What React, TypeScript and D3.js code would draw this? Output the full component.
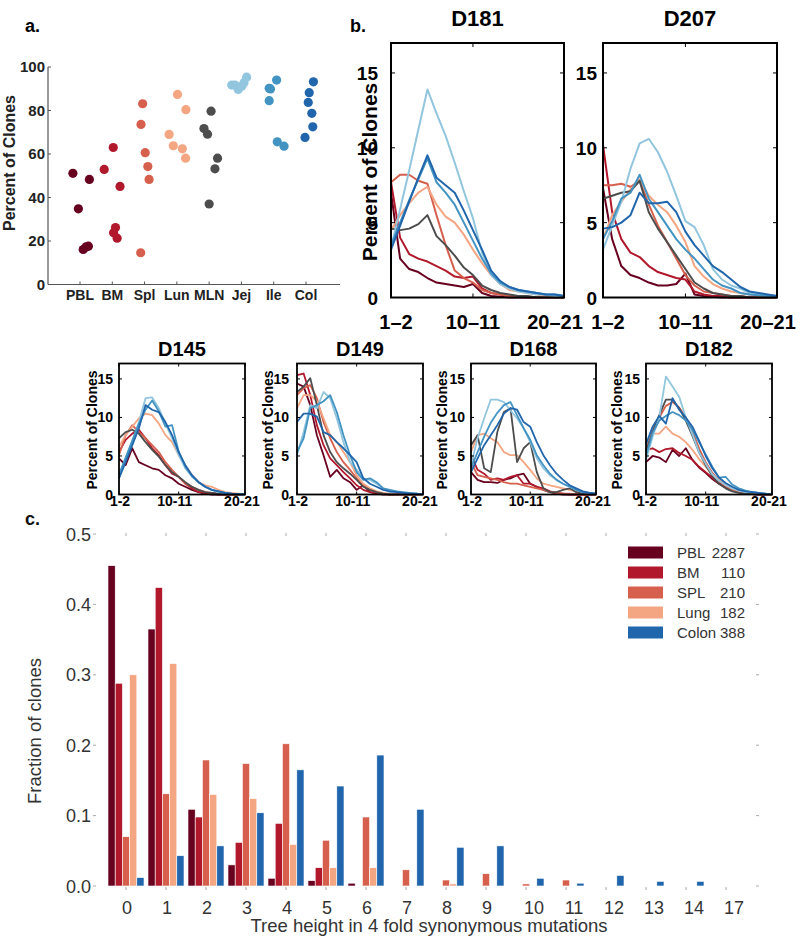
import * as d3 from "d3";

const NARROW = "'Liberation Sans Narrow', 'Arial Narrow', 'Liberation Sans', Arial, sans-serif";
const SANS = "'Liberation Sans', Arial, Helvetica, sans-serif";

// ---------- panel a: percent of clones per tissue ----------
const tissues = ["PBL", "BM", "Spl", "Lun", "MLN", "Jej", "Ile", "Col"];
const tissueColors = ["#67001f", "#b2182b", "#d6604d", "#f4a582", "#4d4d4d", "#92c5de", "#4393c3", "#2166ac"];

const pctPBL = [51.1, 34.8, 48.3, 16.1, 17.3, 17.6];
const pctBM = [52.9, 63.0, 45.1, 26.2, 23.8, 21.3];
const pctSpl = [83.1, 73.6, 60.6, 54.2, 48.3, 14.6];
const pctLun = [87.4, 80.4, 69.0, 63.8, 62.4, 58.1];
const pctMLN = [79.7, 71.7, 69.1, 58.1, 53.2, 37.0];
const pctJej = [91.7, 91.7, 89.7, 91.2, 92.8, 95.3];
const pctIle = [90.2, 89.9, 94.0, 84.5, 65.6, 63.6];
const pctCol = [93.2, 88.2, 83.7, 78.7, 72.5, 67.6];
// horizontal jitter, in units of the category spacing
const jitPBL = [-0.22, -0.05, 0.29, 0.1, 0.19, 0.26];
const jitBM = [-0.25, 0.03, 0.24, 0.1, 0.04, 0.15];
const jitSpl = [-0.06, -0.11, 0.02, 0.1, 0.14, -0.12];
const jitLun = [0.02, 0.28, -0.24, -0.11, 0.17, 0.27];
const jitMLN = [0.06, -0.16, -0.05, 0.26, 0.18, 0.0];
const jitJej = [-0.3, -0.2, -0.1, 0.01, 0.08, 0.16];
const jitIle = [-0.14, -0.1, 0.09, -0.14, 0.11, 0.32];
const jitCol = [0.23, 0.1, 0.07, 0.18, 0.21, -0.03];

const pctByTissue = [pctPBL, pctBM, pctSpl, pctLun, pctMLN, pctJej, pctIle, pctCol];
const jitByTissue = [jitPBL, jitBM, jitSpl, jitLun, jitMLN, jitJej, jitIle, jitCol];
const pctTicks = [0, 20, 40, 60, 80, 100];

// ---------- panel b: clone size profiles (20 bins, order = tissues) ----------
const profileTicks = [0, 9, 19];
const bigTickLabels = ["1\u20132", "10\u201311", "20\u201321"];
const smallTickLabels = ["1-2", "10-11", "20-21"];
const profileYTicks = [0, 5, 10, 15];

const d181 = [
  [7.0, 2.6, 1.9, 1.7, 1.3, 1.0, 0.9, 0.8, 0.7, 0.9, 0.3, 0.1, 0.05, 0, 0, 0, 0, 0, 0, 0],
  [7.7, 4.0, 2.9, 2.6, 2.4, 2.1, 1.8, 1.4, 1.3, 1.4, 0.6, 0.3, 0.2, 0.1, 0.05, 0, 0, 0, 0, 0],
  [7.7, 8.2, 8.2, 7.8, 7.6, 5.5, 3.5, 1.8, 1.3, 1.0, 0.5, 0.3, 0.2, 0.1, 0.1, 0.05, 0, 0, 0, 0],
  [4.5, 5.5, 6.3, 7.0, 7.4, 6.2, 5.4, 5.0, 4.2, 3.2, 2.3, 1.5, 0.9, 0.5, 0.4, 0.3, 0.2, 0.1, 0.1, 0.1],
  [4.6, 4.5, 4.6, 4.9, 5.5, 4.1, 3.5, 2.8, 2.0, 1.5, 0.8, 0.5, 0.3, 0.2, 0.1, 0.1, 0, 0, 0, 0],
  [3.3, 5.9, 8.5, 11.2, 13.9, 12.3, 10.8, 9.0, 7.1, 5.3, 3.0, 1.5, 0.9, 0.6, 0.4, 0.3, 0.2, 0.2, 0.1, 0.1],
  [3.5, 5.0, 6.5, 7.9, 9.3, 7.7, 7.0, 6.2, 5.0, 3.8, 2.6, 1.6, 1.0, 0.7, 0.5, 0.4, 0.3, 0.2, 0.2, 0.1],
  [3.2, 4.8, 6.4, 8.0, 9.5, 8.0, 7.5, 7.0, 5.8, 4.5, 3.2, 1.8, 1.1, 0.7, 0.5, 0.4, 0.3, 0.2, 0.2, 0.1],
];
const d207 = [
  [7.3, 3.9, 2.1, 1.5, 1.3, 1.0, 0.8, 0.8, 0.9, 1.6, 0.2, 0.1, 0.05, 0, 0, 0, 0, 0, 0, 0],
  [10.2, 5.7, 3.9, 3.0, 2.7, 2.1, 1.7, 1.5, 1.3, 1.2, 0.4, 0.2, 0.1, 0.1, 0, 0, 0, 0, 0, 0],
  [7.5, 7.5, 7.6, 7.4, 7.8, 6.2, 4.8, 3.7, 2.6, 1.5, 0.8, 0.4, 0.3, 0.2, 0.1, 0.1, 0, 0, 0, 0],
  [3.9, 5.5, 6.4, 7.2, 7.9, 6.8, 6.2, 5.7, 4.8, 3.7, 2.1, 1.4, 0.9, 0.6, 0.4, 0.3, 0.2, 0.1, 0.1, 0.05],
  [6.6, 6.8, 7.0, 7.1, 7.8, 5.7, 4.6, 3.7, 2.8, 1.9, 1.0, 0.6, 0.3, 0.2, 0.1, 0.1, 0, 0, 0, 0],
  [3.2, 4.8, 6.4, 8.6, 10.3, 10.6, 9.7, 8.4, 6.8, 5.1, 4.7, 3.5, 1.9, 1.2, 0.8, 0.6, 0.3, 0.2, 0.15, 0.1],
  [3.9, 5.1, 6.6, 7.0, 8.2, 6.6, 5.7, 4.8, 3.9, 3.2, 2.6, 1.9, 1.2, 0.8, 0.6, 0.3, 0.2, 0.15, 0.1, 0.1],
  [4.6, 4.7, 5.0, 5.5, 7.0, 6.3, 6.3, 6.4, 5.7, 4.4, 3.5, 2.8, 2.1, 1.7, 1.2, 0.7, 0.4, 0.3, 0.2, 0.1],
];
const d145 = [
  [4.7, 3.8, 6.0, 4.2, 3.8, 3.4, 3.2, 2.5, 2.1, 1.4, 1.0, 0.6, 0.3, 0.1, 0, 0, 0, 0, 0, 0],
  [5.5, 7.1, 7.9, 8.4, 7.3, 6.0, 5.1, 3.8, 2.7, 2.3, 1.4, 0.8, 0.3, 0.2, 0.1, 0, 0, 0, 0, 0],
  [5.1, 7.7, 9.0, 8.1, 7.3, 6.4, 5.5, 4.2, 3.2, 2.3, 1.4, 1.0, 0.6, 0.3, 0.2, 0.1, 0, 0, 0, 0],
  [6.2, 7.7, 8.8, 9.9, 10.5, 10.3, 9.2, 7.7, 6.8, 5.1, 3.8, 2.5, 1.6, 1.2, 1.0, 0.6, 0.3, 0.2, 0.1, 0],
  [7.3, 8.1, 8.4, 7.9, 6.8, 5.8, 4.9, 3.8, 2.9, 2.3, 1.6, 1.0, 0.6, 0.3, 0.2, 0.1, 0, 0, 0, 0],
  [2.5, 4.7, 6.8, 9.4, 12.5, 12.6, 11.2, 9.2, 7.3, 5.1, 3.4, 2.3, 1.6, 1.0, 0.6, 0.3, 0.2, 0.1, 0.05, 0],
  [2.6, 4.8, 7.0, 9.2, 11.0, 12.2, 10.8, 8.8, 9.0, 5.6, 3.6, 2.4, 1.6, 1.0, 0.6, 0.4, 0.2, 0.1, 0.05, 0],
  [2.1, 4.2, 6.4, 8.6, 11.6, 11.0, 10.7, 9.4, 7.7, 5.5, 3.8, 2.5, 1.6, 1.0, 0.6, 0.4, 0.2, 0.1, 0.05, 0],
];
const d149 = [
  [14.4, 14.0, 11.6, 7.7, 5.1, 2.3, 3.2, 2.1, 1.6, 0.6, 1.2, 0.3, 0.1, 0, 0, 0, 0, 0, 0, 0],
  [15.5, 15.7, 12.9, 9.0, 6.4, 4.7, 3.8, 2.9, 2.1, 1.2, 0.6, 0.3, 0.2, 0.1, 0, 0, 0, 0, 0, 0],
  [12.9, 13.8, 14.2, 12.5, 9.4, 7.3, 5.5, 4.2, 3.2, 2.1, 1.2, 0.6, 0.3, 0.1, 0, 0, 0, 0, 0, 0],
  [11.2, 12.9, 12.9, 12.1, 9.9, 7.7, 6.8, 5.5, 4.2, 2.5, 1.4, 0.8, 0.4, 0.2, 0.1, 0, 0, 0, 0, 0],
  [13.3, 14.0, 15.1, 11.6, 7.7, 5.5, 4.2, 3.4, 2.7, 1.9, 1.0, 0.6, 0.3, 0.1, 0, 0, 0, 0, 0, 0],
  [5.1, 8.1, 11.6, 11.2, 13.3, 12.5, 9.9, 6.8, 4.2, 3.2, 2.1, 1.9, 1.4, 0.8, 0.3, 0.4, 0.2, 0.1, 0.1, 0],
  [5.5, 7.3, 11.2, 11.6, 12.1, 12.9, 10.7, 7.7, 5.1, 2.9, 1.9, 2.1, 1.6, 0.8, 0.6, 0.4, 0.3, 0.2, 0.1, 0],
  [9.4, 10.5, 10.5, 10.1, 8.1, 7.7, 6.8, 6.0, 5.1, 4.2, 2.1, 1.4, 1.0, 0.6, 0.4, 0.3, 0.2, 0.1, 0.1, 0],
];
const d168 = [
  [2.9, 1.9, 1.6, 1.6, 1.5, 1.9, 2.1, 2.5, 2.7, 1.4, 1.0, 0.6, 0.3, 0.1, 0, 0, 0, 0, 0, 0],
  [5.1, 3.2, 2.7, 1.9, 2.1, 1.9, 2.3, 2.5, 1.4, 1.4, 1.0, 0.8, 0.4, 0.2, 0.1, 0, 0, 0, 0, 0],
  [4.2, 2.5, 2.3, 2.1, 1.9, 1.6, 1.4, 1.4, 1.2, 1.0, 0.8, 0.6, 0.3, 0.2, 0.1, 0.1, 0, 0, 0, 0],
  [5.5, 7.7, 7.9, 7.3, 6.8, 5.5, 5.1, 5.1, 4.2, 3.2, 2.1, 1.4, 1.2, 1.0, 0.8, 0.6, 0.4, 0.3, 0.2, 0.1],
  [6.4, 7.7, 3.4, 2.9, 8.1, 10.7, 11.2, 4.2, 6.0, 6.8, 2.9, 0.8, 0.3, 0.3, 0.6, 0.8, 0.3, 0.1, 0, 0],
  [3.8, 7.3, 9.9, 12.3, 12.3, 12.0, 10.9, 9.9, 8.6, 6.8, 4.7, 3.4, 2.5, 1.9, 1.4, 1.0, 0.6, 0.3, 0.2, 0.1],
  [3.5, 5.5, 7.5, 9.3, 10.6, 11.6, 12.0, 10.3, 8.6, 7.1, 5.1, 3.8, 2.7, 1.9, 1.4, 1.0, 0.6, 0.3, 0.2, 0.1],
  [2.9, 4.7, 6.4, 7.7, 9.0, 10.5, 11.2, 11.0, 9.4, 8.8, 6.8, 5.1, 3.8, 2.7, 1.9, 1.2, 0.8, 0.4, 0.2, 0.1],
];
const d182 = [
  [4.2, 5.0, 4.8, 4.2, 5.8, 5.0, 6.0, 4.5, 3.5, 2.8, 2.0, 1.4, 0.9, 0.5, 0.3, 0.1, 0.05, 0, 0, 0],
  [5.8, 6.0, 5.5, 5.9, 6.0, 5.4, 5.0, 4.5, 3.6, 2.9, 2.2, 1.5, 1.0, 0.6, 0.3, 0.1, 0.05, 0, 0, 0],
  [5.8, 8.3, 10.0, 11.5, 12.0, 11.3, 10.0, 8.2, 6.0, 4.2, 2.8, 1.8, 1.1, 0.6, 0.3, 0.2, 0.1, 0, 0, 0],
  [6.8, 7.9, 7.9, 8.8, 7.9, 7.5, 6.8, 5.8, 4.6, 3.6, 2.6, 2.0, 1.3, 0.8, 0.5, 0.3, 0.2, 0.1, 0.05, 0],
  [5.5, 8.1, 10.3, 12.3, 12.3, 11.2, 9.6, 7.6, 5.5, 3.8, 2.4, 1.4, 0.8, 0.4, 0.2, 0.1, 0.05, 0, 0, 0],
  [4.5, 7.5, 10.0, 15.3, 14.0, 12.7, 10.0, 7.8, 5.5, 4.0, 2.6, 1.8, 1.2, 0.8, 0.5, 0.3, 0.3, 0.2, 0.1, 0.05],
  [5.0, 8.0, 9.6, 10.2, 10.7, 10.3, 9.6, 8.4, 6.8, 5.2, 3.6, 2.2, 2.3, 1.3, 0.8, 0.5, 0.3, 0.2, 0.1, 0.05],
  [6.5, 8.8, 10.2, 9.2, 12.5, 11.0, 10.0, 8.8, 7.0, 5.0, 3.4, 2.2, 1.5, 1.0, 0.6, 0.4, 0.3, 0.2, 0.1, 0],
];

// ---------- panel c: tree height distribution ----------
const heightCats = ["0", "1", "2", "3", "4", "5", "6", "7", "8", "9", "10", "11", "12", "13", "14", "17"];
const fracPBL = [0.455, 0.365, 0.109, 0.03, 0.011, 0.0076, 0.004, 0, 0, 0, 0, 0, 0, 0, 0, 0];
const fracBM = [0.288, 0.424, 0.098, 0.062, 0.089, 0.026, 0, 0, 0, 0, 0, 0, 0, 0, 0, 0];
const fracSPL = [0.07, 0.131, 0.179, 0.174, 0.202, 0.065, 0.098, 0.023, 0.0085, 0.0175, 0.003, 0.0085, 0, 0, 0, 0];
const fracLung = [0.3, 0.316, 0.13, 0.124, 0.059, 0.026, 0.026, 0, 0.003, 0, 0, 0, 0, 0, 0, 0];
const fracColon = [0.012, 0.043, 0.057, 0.104, 0.165, 0.142, 0.186, 0.109, 0.055, 0.057, 0.011, 0.004, 0.015, 0.0066, 0.0066, 0];
const fracSeries = ["PBL", "BM", "SPL", "Lung", "Colon"];
const fracCounts = ["2287", "110", "210", "182", "388"];
const fracColors = ["#67001f", "#b2182b", "#d6604d", "#f4a582", "#2166ac"];
const fracTicks = [0, 0.1, 0.2, 0.3, 0.4, 0.5];

function PanelA() {
  const x = d3.scalePoint<string>().domain(tissues).range([80, 306]);
  const step = x.step();
  const y = d3.scaleLinear().domain([0, 100]).range([284.5, 67]);
  return (
    <g>
      <text x={25} y={32} fontFamily={SANS} fontWeight="bold" fontSize={18}>a.</text>
      <line x1={48} x2={48} y1={y(100)} y2={y(0)} stroke="#555" strokeWidth={1.2} />
      <line x1={48} x2={340} y1={y(0)} y2={y(0)} stroke="#555" strokeWidth={1.2} />
      {pctTicks.map((t) => (
        <g key={t}>
          <line x1={48} x2={51} y1={y(t)} y2={y(t)} stroke="#555" />
          <text x={45} y={y(t) + 5} textAnchor="end" fontFamily={NARROW} fontWeight="bold" fontSize={15} fill="#222">{t}</text>
        </g>
      ))}
      {tissues.map((t) => (
        <g key={t}>
          <line x1={x(t)} x2={x(t)} y1={y(0)} y2={y(0) - 3} stroke="#555" />
          <text x={x(t)} y={300} textAnchor="middle" fontFamily={NARROW} fontWeight="bold" fontSize={14} fill="#222">{t}</text>
        </g>
      ))}
      <text transform={`translate(15,163) rotate(-90)`} textAnchor="middle" fontFamily={SANS} fontWeight="bold" fontSize={16} fill="#222">Percent of Clones</text>
      {tissues.map((t, ti) =>
        pctByTissue[ti].map((v, i) => (
          <circle key={`${t}-${i}`} cx={(x(t) as number) + jitByTissue[ti][i] * step} cy={y(v)} r={4.6} fill={tissueColors[ti]} />
        ))
      )}
    </g>
  );
}

type ProfileProps = {
  title: string;
  data: number[][];
  x0: number;
  x1: number;
  y0: number;
  y1: number;
  big: boolean;
  labelGap: number;
};

function Profile({ title, data, x0, x1, y0, y1, big, labelGap }: ProfileProps) {
  const x = d3.scaleLinear().domain([0, 19]).range([x0, x1]);
  const y = d3.scaleLinear().domain([0, 17]).range([y1, y0]);
  const line = d3.line<number>().x((_, i) => x(i)).y((d) => y(d));
  const tl = big ? 4 : 3;
  const labels = big ? bigTickLabels : smallTickLabels;
  // matlab nudges the outer tick labels inwards a little
  const nudge = big ? [5, 0, -9] : [1, -4, -3];
  return (
    <g>
      <text x={(x0 + x1) / 2} y={big ? y0 - 17 : y0 - 8} textAnchor="middle" fontFamily={NARROW} fontWeight="bold" fontSize={big ? 22 : 20}>{title}</text>
      {data.map((s, i) => (
        <path key={i} d={line(s) ?? ""} fill="none" stroke={tissueColors[i]} strokeWidth={big ? 2 : 1.8} strokeLinejoin="round" />
      ))}
      <rect x={x0} y={y0} width={x1 - x0} height={y1 - y0} fill="none" stroke="#000" strokeWidth={big ? 2 : 1.8} />
      {profileYTicks.map((t) => (
        <g key={t}>
          <line x1={x0} x2={x0 + tl} y1={y(t)} y2={y(t)} stroke="#000" />
          <line x1={x1} x2={x1 - tl} y1={y(t)} y2={y(t)} stroke="#000" />
          <text x={x0 - labelGap} y={y(t) + (big ? 7 : 5)} textAnchor="end" fontFamily={NARROW} fontWeight="bold" fontSize={big ? 19 : 14}>{t}</text>
        </g>
      ))}
      {profileTicks.map((t, i) => (
        <g key={t}>
          <line x1={x(t)} x2={x(t)} y1={y0} y2={y0 + tl} stroke="#000" />
          <line x1={x(t)} x2={x(t)} y1={y1} y2={y1 - tl} stroke="#000" />
          <text x={x(t) + nudge[i]} y={big ? y1 + 31 : y1 + 11} textAnchor="middle" fontFamily={NARROW} fontWeight="bold" fontSize={big ? 20 : 14}>{labels[i]}</text>
        </g>
      ))}
    </g>
  );
}

function PanelC() {
  const x = d3.scaleBand<string>().domain(heightCats).range([95, 757]).paddingInner(0.1).paddingOuter(0.325);
  const xs = d3.scaleBand<string>().domain(fracSeries).range([0, x.bandwidth()]);
  const y = d3.scaleLinear().domain([0, 0.5]).range([886, 534]);
  const series = [fracPBL, fracBM, fracSPL, fracLung, fracColon];
  const tickCol = "#aaa";
  return (
    <g fontFamily={SANS} fill="#333">
      <text x={25} y={525} fontWeight="bold" fontSize={18} fill="#111">c.</text>
      {fracTicks.map((t) => (
        <g key={t}>
          <line x1={93} x2={96} y1={y(t)} y2={y(t)} stroke={tickCol} />
          <line x1={756} x2={759} y1={y(t)} y2={y(t)} stroke={tickCol} />
          <text x={91} y={y(t) + 6.5} textAnchor="end" fontSize={18}>{t.toFixed(1)}</text>
        </g>
      ))}
      {heightCats.map((c) => {
        const cx = (x(c) as number) + x.bandwidth() / 2;
        // two-digit labels sit a little right of their tick in the original
        const shift = c.length > 1 ? 8 : 1;
        return (
          <g key={c}>
            <line x1={cx} x2={cx} y1={533} y2={536} stroke={tickCol} />
            <line x1={cx} x2={cx} y1={887} y2={890} stroke={tickCol} />
            <text x={cx + shift} y={914} textAnchor="middle" fontSize={18}>{c}</text>
          </g>
        );
      })}
      {series.map((s, si) =>
        s.map((v, i) =>
          v > 0 ? (
            <rect
              key={`${si}-${i}`}
              x={(x(heightCats[i]) as number) + (xs(fracSeries[si]) as number)}
              y={y(v)}
              width={xs.bandwidth()}
              height={y(0) - y(v)}
              fill={fracColors[si]}
              stroke="#fff"
              strokeWidth={0.6}
            />
          ) : null
        )
      )}
      <text transform="translate(41,731) rotate(-90)" textAnchor="middle" fontSize={18.5}>Fraction of clones</text>
      <text x={429} y={932} textAnchor="middle" fontSize={18.5}>Tree height in 4 fold synonymous mutations</text>
      {fracSeries.map((s, i) => (
        <g key={s}>
          <rect x={628} y={546.5 + i * 20} width={35} height={12} fill={fracColors[i]} />
          <text x={677} y={558 + i * 20} fontSize={15}>{s}</text>
          <text x={745} y={558 + i * 20} fontSize={15} textAnchor="end">{fracCounts[i]}</text>
        </g>
      ))}
    </g>
  );
}

export default function App() {
  return (
    <div style={{ position: "absolute", left: 0, top: 0 }}>
      <svg width={800} height={941} viewBox="0 0 800 941" style={{ display: "block", background: "#fff" }}>
        <PanelA />
        <text x={350} y={32} fontFamily={SANS} fontWeight="bold" fontSize={18}>b.</text>
        <Profile title="D181" data={d181} x0={391} x1={564} y0={43} y1={297.5} big labelGap={13} />
        <text transform="translate(377,172) rotate(-90)" textAnchor="middle" fontFamily={SANS} fontWeight="bold" fontSize={21}>Percent of Clones</text>
        <Profile title="D207" data={d207} x0={603} x1={777} y0={43} y1={297.5} big labelGap={6} />
        <Profile title="D145" data={d145} x0={119} x1={245} y0={363.5} y1={494.5} big={false} labelGap={6} />
        <Profile title="D149" data={d149} x0={297} x1={423} y0={363.5} y1={494.5} big={false} labelGap={8} />
        <Profile title="D168" data={d168} x0={471} x1={596} y0={363.5} y1={494.5} big={false} labelGap={6} />
        <Profile title="D182" data={d182} x0={646} x1={772} y0={363.5} y1={494.5} big={false} labelGap={6} />
        {[92, 268, 442, 617].map((cx) => (
          <text key={cx} transform={`translate(${cx + 5},430) rotate(-90)`} textAnchor="middle" fontFamily={SANS} fontWeight="bold" fontSize={14}>Percent of Clones</text>
        ))}
        <PanelC />
      </svg>
    </div>
  );
}
